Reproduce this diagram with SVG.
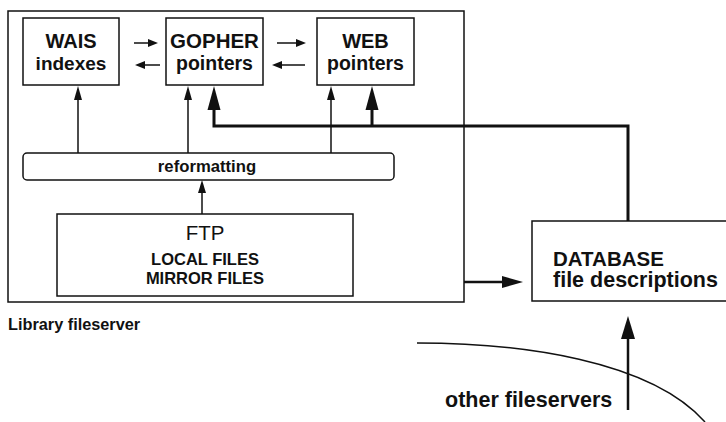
<svg xmlns="http://www.w3.org/2000/svg" width="726" height="422" viewBox="0 0 726 422">
<style>
  .box { fill: none; stroke: #111; stroke-width: 1.5; }
  .t { font-family: "Liberation Sans", Arial, sans-serif; font-weight: bold; fill: #111; }
  .thin { fill: none; stroke: #111; stroke-width: 1.5; }
  .thick { fill: none; stroke: #111; stroke-width: 3; }
  .head { fill: #111; stroke: none; }
</style>
<rect width="726" height="422" fill="#fff"/>

<g id="library-fileserver">
  <rect class="box" x="8" y="11" width="456" height="291"/>
  <text class="t" x="8" y="330" font-size="16.3">Library fileserver</text>
</g>

<g id="wais">
  <rect class="box" x="23" y="18" width="96" height="67"/>
  <text class="t" x="71" y="48" font-size="20" text-anchor="middle">WAIS</text>
  <text class="t" x="71" y="70" font-size="19" text-anchor="middle">indexes</text>
</g>

<g id="gopher">
  <rect class="box" x="166" y="18" width="97" height="67"/>
  <text class="t" x="214.5" y="48" font-size="20.5" text-anchor="middle">GOPHER</text>
  <text class="t" x="214.5" y="70" font-size="19.5" text-anchor="middle">pointers</text>
</g>

<g id="web">
  <rect class="box" x="317" y="18" width="97" height="67"/>
  <text class="t" x="365.5" y="48" font-size="20" text-anchor="middle">WEB</text>
  <text class="t" x="365.5" y="70" font-size="19.5" text-anchor="middle">pointers</text>
</g>

<g id="reformatting">
  <rect class="box" x="23" y="153" width="371" height="27" rx="4"/>
  <text class="t" x="207" y="172" font-size="16.7" text-anchor="middle">reformatting</text>
</g>

<g id="ftp">
  <rect class="box" x="57" y="214" width="296" height="82"/>
  <text class="t" x="205" y="240" font-size="20.5" text-anchor="middle" style="font-weight:normal">FTP</text>
  <text class="t" x="205" y="265" font-size="16.5" text-anchor="middle">LOCAL FILES</text>
  <text class="t" x="205" y="284" font-size="16.5" text-anchor="middle">MIRROR FILES</text>
</g>

<g id="database">
  <path class="box" d="M726 221 H532 V301 H726"/>
  <text class="t" x="553" y="266" font-size="20.5">DATABASE</text>
  <text class="t" x="553" y="287" font-size="21.5">file descriptions</text>
</g>

<g id="other-fileservers">
  <path d="M417 343 C520 343 650 360 705 422" fill="none" stroke="#111" stroke-width="1.5"/>
  <text class="t" x="445" y="407" font-size="21.5">other fileservers</text>
</g>

<g id="connectors">
  <line class="thin" x1="134" y1="43" x2="150" y2="43"/>
  <polygon class="head" points="158,43 148,39 148,47"/>
  <line class="thin" x1="160" y1="65" x2="143" y2="65"/>
  <polygon class="head" points="135,65 145,61 145,69"/>
  <line class="thin" x1="277" y1="43" x2="298" y2="43"/>
  <polygon class="head" points="306,43 296,39 296,47"/>
  <line class="thin" x1="305" y1="65" x2="280" y2="65"/>
  <polygon class="head" points="272,65 282,61 282,69"/>

  <line class="thin" x1="78" y1="153" x2="78" y2="96"/>
  <polygon class="head" points="78,86 74,100 82,100"/>
  <line class="thin" x1="188" y1="153" x2="188" y2="96"/>
  <polygon class="head" points="188,86 184,100 192,100"/>
  <line class="thin" x1="331" y1="153" x2="331" y2="96"/>
  <polygon class="head" points="331,86 327,100 335,100"/>

  <line class="thin" x1="202" y1="214" x2="202" y2="190"/>
  <polygon class="head" points="202,180 198,193 206,193"/>

  <path class="thick" d="M628 221 V126 H214 V105"/>
  <polygon class="head" points="214,86 207.5,110 220.5,110"/>
  <line class="thick" x1="372" y1="126" x2="372" y2="105"/>
  <polygon class="head" points="372,86 365.5,110 378.5,110"/>

  <line x1="464" y1="282" x2="506" y2="282" stroke="#111" stroke-width="2.5"/>
  <polygon class="head" points="523,282 502,276 502,288"/>

  <line x1="628" y1="410" x2="628" y2="334" stroke="#111" stroke-width="2.5"/>
  <polygon class="head" points="628,316 621,339 635,339"/>
</g>
</svg>
